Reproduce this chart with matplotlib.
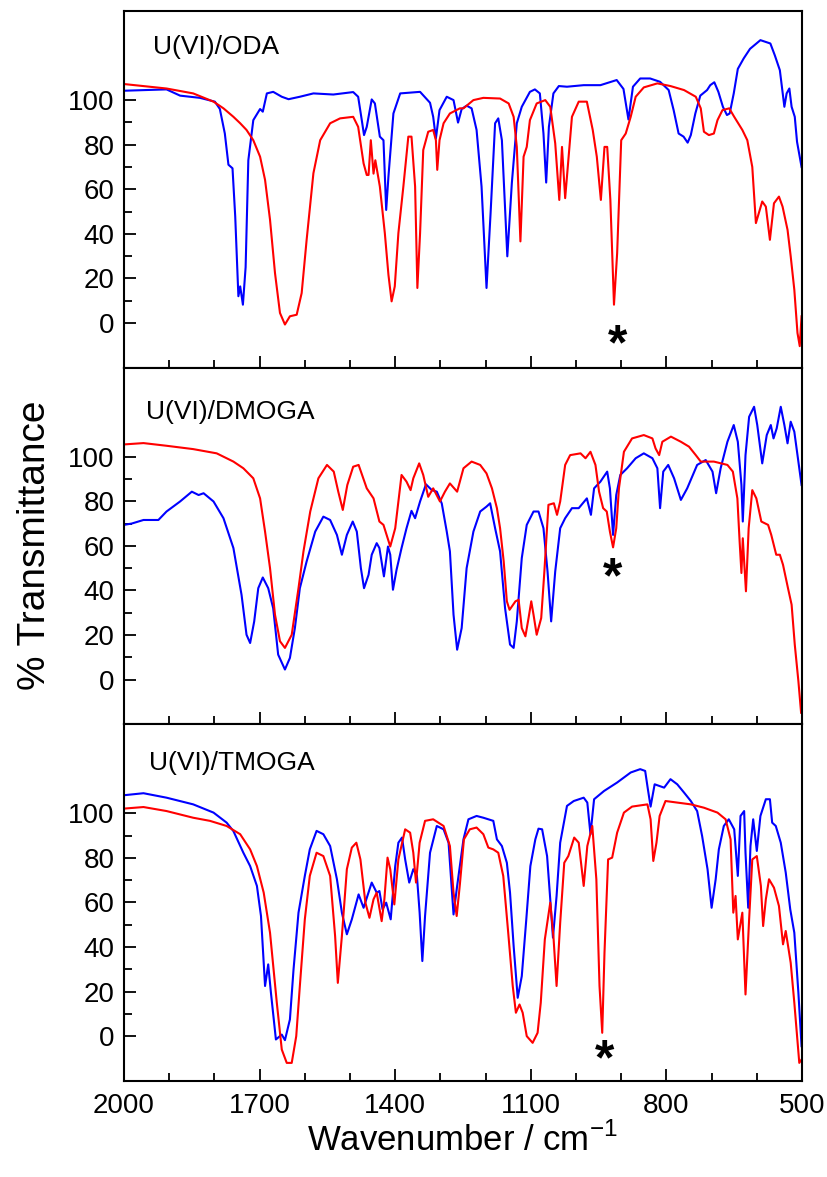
import matplotlib
matplotlib.use("Agg")
import matplotlib.pyplot as plt
from matplotlib.ticker import FixedLocator

plt.rcParams["font.family"] = ["Liberation Sans", "DejaVu Sans"]
plt.rcParams["mathtext.fontset"] = "custom"
plt.rcParams["mathtext.rm"] = "Liberation Sans"

# panel labels and the asterisk positions (wavenumber, %T at the glyph baseline)
panel_names = ["U(VI)/ODA", "U(VI)/DMOGA", "U(VI)/TMOGA"]
star_positions = [(907, -16.2), (920, 39.3), (937, -17.2)]

x_major = [2000, 1700, 1400, 1100, 800, 500]
x_minor = [1900, 1800, 1600, 1500, 1300, 1200, 1000, 900, 700, 600]
y_major = [0, 20, 40, 60, 80, 100]
y_minor = [10, 30, 50, 70, 90]

# spectra: (wavenumber / cm-1, % transmittance)
oda_blue = [
    (2000, 104.2), (1906, 104.8), (1876, 102), (1832, 101), (1799, 99.3), (1788, 96),
    (1777, 85), (1769, 71), (1760, 69.4), (1754, 47.8), (1747, 12), (1743, 16.4),
    (1737, 8.2), (1731, 25), (1725, 73), (1714, 91), (1699, 96), (1693, 94.8),
    (1684, 103), (1670, 103.7), (1651, 101.5), (1636, 100.4), (1611, 101.5), (1581, 103),
    (1537, 102.5), (1493, 103.6), (1482, 101.5), (1474, 91), (1469, 84.3), (1463, 88),
    (1452, 100.3), (1445, 98.5), (1434, 83.6), (1426, 82), (1420, 50.7), (1415, 65.7),
    (1404, 94), (1389, 103), (1345, 103.7), (1323, 98.8), (1316, 92.5), (1310, 82.8),
    (1302, 95.5), (1286, 101.5), (1271, 100), (1261, 89.9), (1253, 96), (1242, 97.5),
    (1231, 96.3), (1220, 86.6), (1209, 61.2), (1198, 15.7), (1189, 49.3), (1179, 89.6),
    (1172, 91.8), (1164, 82), (1152, 29.9), (1142, 62.7), (1131, 89.6), (1120, 97),
    (1102, 103.7), (1091, 104.8), (1080, 103), (1072, 85), (1066, 63), (1060, 88),
    (1050, 103), (1038, 106.3), (1020, 106), (983, 106.7), (946, 106.7), (910, 109),
    (895, 105), (884, 91.3), (874, 106), (858, 109.7), (836, 109.7), (814, 108.2),
    (795, 104.5), (784, 95.5), (773, 85), (762, 83.6), (753, 80.9), (746, 84.3),
    (736, 94), (725, 102), (710, 104.5), (703, 106.7), (694, 108), (685, 103.7),
    (675, 97), (666, 93.3), (660, 94), (651, 103), (642, 114), (629, 118.7),
    (615, 123), (592, 126.9), (570, 125.4), (560, 120), (549, 113.4), (539, 97),
    (534, 103), (528, 105.2), (523, 97), (516, 92.5), (511, 81.3), (501, 70),
]
oda_red = [
    (2000, 107.2), (1906, 105.2), (1847, 103), (1802, 99.3), (1780, 96.3), (1758, 92.5),
    (1743, 89.6), (1729, 86.6), (1714, 82), (1699, 74.6), (1688, 64.2), (1677, 46.3),
    (1666, 22.4), (1655, 4.5), (1644, -0.7), (1633, 3), (1618, 3.7), (1607, 13.4),
    (1596, 37.3), (1581, 67.2), (1566, 82), (1544, 89.6), (1522, 91.8), (1493, 92.5),
    (1482, 88), (1470, 71.6), (1463, 66.4), (1459, 66.4), (1454, 82), (1448, 67),
    (1444, 73), (1434, 61.2), (1423, 40.3), (1415, 21.6), (1408, 9.7), (1401, 16.4),
    (1393, 40.3), (1382, 61.2), (1371, 83.6), (1364, 83.6), (1356, 61.2), (1351, 15.7),
    (1345, 40.3), (1338, 77.6), (1327, 85.8), (1316, 86.6), (1310, 82), (1307, 68.7),
    (1302, 82), (1293, 89.6), (1279, 94), (1257, 96.3), (1249, 96.3), (1227, 100),
    (1205, 101), (1168, 100.7), (1149, 98.5), (1138, 92.5), (1131, 79), (1123, 36.6),
    (1116, 74.6), (1109, 79), (1102, 91), (1087, 98.5), (1068, 100), (1057, 97),
    (1046, 80.6), (1037, 55.2), (1031, 79), (1024, 56), (1017, 73), (1009, 92.5),
    (994, 99.3), (976, 99.3), (963, 86.6), (954, 74.6), (945, 55.2), (937, 79),
    (931, 79), (924, 55.2), (916, 8.2), (909, 31.3), (900, 82), (890, 85),
    (879, 92.5), (868, 101.5), (850, 105.7), (820, 107.5), (791, 106.3), (761, 104.5),
    (735, 101.5), (724, 96.3), (717, 85.8), (706, 84.3), (695, 85), (687, 91),
    (676, 95.5), (661, 96.3), (650, 92.5), (632, 86.6), (621, 82), (610, 70),
    (602, 44.8), (588, 54.5), (580, 52.2), (571, 37.3), (562, 53.7), (551, 56.7),
    (543, 52.2), (532, 41.8), (525, 29.9), (517, 14.9), (510, -4.5), (505, -10.4),
    (501, 3),
]
dmoga_blue = [
    (2000, 69.4), (1983, 70), (1957, 71.6), (1924, 71.6), (1906, 75.4), (1876, 79.9),
    (1850, 84.3), (1835, 82.8), (1824, 83.6), (1802, 79.9), (1780, 72.4), (1758, 59),
    (1740, 38), (1729, 20.1), (1721, 16.4), (1712, 26.1), (1703, 41), (1693, 45.8),
    (1681, 41), (1670, 32), (1659, 11.2), (1644, 4.5), (1633, 9.7), (1622, 23.1),
    (1611, 41), (1596, 53), (1577, 66.4), (1559, 73.1), (1544, 71.6), (1529, 64.9),
    (1518, 56), (1507, 64.9), (1494, 70.9), (1485, 66.4), (1476, 50), (1469, 41),
    (1459, 47), (1452, 56), (1441, 61.2), (1435, 59), (1425, 46.3), (1416, 59.7),
    (1411, 56), (1405, 40.3), (1397, 49.3), (1386, 59), (1375, 67.9), (1364, 75.7),
    (1356, 72.4), (1345, 79.9), (1332, 87.6), (1319, 85), (1308, 84.3), (1297, 79),
    (1286, 66.4), (1279, 57.5), (1271, 29.1), (1263, 13.4), (1253, 23.1), (1242, 50),
    (1227, 66.4), (1212, 75.4), (1198, 77.6), (1190, 79.1), (1179, 67.9), (1168, 57.5),
    (1157, 32.1), (1146, 15.7), (1138, 14.2), (1131, 26.1), (1120, 54.5), (1109, 69.4),
    (1094, 75.4), (1083, 75.4), (1072, 67.9), (1063, 48.5), (1055, 26.1), (1046, 48.5),
    (1035, 67.9), (1024, 72.4), (1009, 76.9), (994, 76.9), (976, 81.3), (967, 73.9),
    (960, 85.8), (946, 88.8), (931, 93.3), (925, 85.8), (918, 64.9), (911, 82.8),
    (902, 91.8), (887, 94.8), (868, 99.3), (850, 101.5), (831, 99.3), (820, 94.8),
    (814, 76.9), (807, 93.3), (796, 96.3), (783, 90.3), (768, 80.6), (754, 85.8),
    (732, 96.3), (713, 98.5), (698, 93.3), (690, 83.6), (680, 94.8), (665, 106.7),
    (651, 114.2), (642, 106.7), (634, 87.3), (631, 70.9), (625, 100.7), (617, 117.9),
    (606, 122.4), (599, 114.2), (588, 97), (578, 109.7), (569, 114.2), (563, 108.2),
    (556, 112.7), (547, 122.4), (539, 114.2), (532, 106), (525, 115.7), (517, 111.2),
    (508, 97.8), (501, 87.3),
]
dmoga_red = [
    (2000, 105.5), (1957, 106.1), (1906, 104.9), (1847, 103.4), (1795, 101.5), (1758, 97.8),
    (1736, 94.8), (1714, 90.3), (1699, 81.3), (1688, 66.4), (1677, 50), (1666, 29.1),
    (1655, 17.2), (1644, 14.2), (1629, 20.1), (1614, 41), (1603, 57.5), (1588, 75.4),
    (1570, 90.3), (1551, 96.3), (1536, 93.3), (1526, 84.3), (1516, 76.1), (1506, 87.3),
    (1493, 95.5), (1481, 96.3), (1463, 85.8), (1448, 81.3), (1435, 70.9), (1426, 69.4),
    (1411, 59.7), (1400, 67.9), (1386, 91.8), (1375, 88.8), (1366, 85), (1360, 90.3),
    (1347, 97), (1338, 91.8), (1327, 82), (1316, 85.8), (1301, 79.9), (1290, 84.3),
    (1279, 88), (1263, 84.3), (1249, 94.8), (1231, 97.8), (1212, 96.3), (1198, 92.5),
    (1186, 85.8), (1175, 76.9), (1168, 67.9), (1160, 53), (1153, 35.1), (1147, 31.3),
    (1134, 35.1), (1127, 35.8), (1120, 23.1), (1112, 19.4), (1105, 27.6), (1099, 35.1),
    (1094, 29.1), (1087, 20.1), (1077, 27.6), (1070, 48.5), (1061, 78.4), (1049, 79.1),
    (1042, 73.9), (1035, 79.9), (1024, 96.3), (1013, 100.7), (990, 101.5), (979, 99.3),
    (968, 102.2), (957, 96.3), (949, 84.3), (940, 76.9), (932, 75.4), (925, 66.4),
    (918, 59.3), (911, 67.9), (905, 85.8), (894, 102.2), (876, 108.2), (850, 109.7),
    (831, 108.2), (824, 103.7), (816, 100.7), (809, 106.7), (790, 109), (768, 106.7),
    (750, 104.5), (735, 100.7), (724, 97.8), (695, 97.8), (665, 96.3), (653, 93.3),
    (643, 81.3), (638, 61.9), (634, 47.8), (631, 63.4), (628, 53), (624, 39.6),
    (618, 67.9), (610, 85), (601, 81.3), (590, 70.9), (575, 69.4), (568, 64.9),
    (557, 56), (549, 56), (542, 51.5), (531, 41), (523, 33.6), (516, 15.7),
    (508, -0.7), (502, -14.9),
]
tmoga_blue = [
    (2000, 108.1), (1957, 109), (1906, 107), (1847, 104), (1802, 100.3), (1773, 95.8),
    (1758, 92), (1736, 82.3), (1721, 76.3), (1706, 67.4), (1697, 53.9), (1688, 22.5),
    (1681, 32.2), (1675, 19.5), (1664, -1.5), (1651, 0.7), (1644, -1.8), (1633, 7.5),
    (1625, 29.9), (1614, 55.4), (1600, 71.9), (1589, 83.8), (1574, 92.1), (1559, 90.6),
    (1544, 85.3), (1529, 70.4), (1518, 55.4), (1507, 45.7), (1496, 52.4), (1481, 63.6),
    (1470, 57.6), (1452, 68.9), (1441, 64.4), (1435, 65.1), (1428, 56.9), (1420, 59.9),
    (1410, 52.4), (1400, 76.3), (1393, 86.8), (1385, 89.1), (1378, 79.3), (1369, 68.9),
    (1360, 74.9), (1352, 71.9), (1346, 55.4), (1340, 33.7), (1334, 53.9), (1323, 82.3),
    (1308, 94.3), (1293, 92.8), (1282, 86.8), (1271, 54.6), (1263, 67.4), (1249, 88.3),
    (1238, 97.3), (1220, 98.8), (1205, 98), (1183, 96.6), (1175, 88.3), (1164, 85.3),
    (1153, 77.8), (1146, 64.4), (1138, 40.4), (1129, 17.2), (1120, 26.9), (1110, 52.4),
    (1101, 76.3), (1090, 88.3), (1083, 93.1), (1075, 92.8), (1064, 80.8), (1057, 61.4),
    (1051, 44.2), (1043, 62.9), (1035, 86.8), (1020, 103.3), (1005, 105.5), (983, 107),
    (975, 104.8), (968, 90.6), (960, 106.3), (938, 110), (909, 113.8), (879, 118.3),
    (858, 119.8), (847, 119), (841, 110.8), (835, 103), (826, 113), (805, 111.5),
    (791, 115.3), (776, 113), (761, 109.3), (746, 105.5), (732, 101), (721, 89.8),
    (709, 74.9), (700, 57.6), (691, 70.4), (684, 83.8), (673, 94.3), (662, 97.3),
    (650, 92.8), (642, 71.9), (636, 98.8), (628, 101), (625, 82.3), (619, 57.6),
    (614, 85.3), (608, 97.3), (600, 83.1), (592, 98.8), (580, 106.3), (571, 106.3),
    (566, 95.8), (558, 94.3), (547, 86.8), (536, 73.4), (526, 56.9), (517, 46.4),
    (508, 19.5), (501, -4.5),
]
tmoga_red = [
    (2000, 102.1), (1957, 102.8), (1906, 101), (1847, 98), (1810, 96.6), (1773, 94.3),
    (1743, 90.6), (1721, 83.8), (1706, 76.3), (1691, 64.4), (1677, 46.4), (1662, 15),
    (1651, -6), (1640, -12), (1629, -12), (1619, 0), (1611, 22.5), (1600, 52.4),
    (1589, 71.9), (1574, 82.3), (1559, 80.8), (1544, 71.9), (1533, 44.9), (1527, 23.9),
    (1518, 44.9), (1507, 74.9), (1496, 84.6), (1486, 86.8), (1477, 79.3), (1466, 59.9),
    (1457, 53.1), (1448, 61.4), (1441, 64.4), (1430, 51.6), (1424, 61.4), (1417, 80.1),
    (1411, 74.9), (1402, 59.1), (1393, 79.3), (1378, 92.8), (1367, 91.3), (1360, 82.3),
    (1354, 68.9), (1346, 86.8), (1334, 96.6), (1316, 97.3), (1293, 94.3), (1279, 85.3),
    (1271, 64.4), (1264, 53.9), (1257, 68), (1248, 88.3), (1235, 92.8), (1220, 93.6),
    (1205, 90.6), (1194, 84.6), (1183, 83.8), (1172, 82.3), (1161, 71.9), (1150, 46.4),
    (1140, 22.5), (1133, 10.5), (1125, 14.2), (1118, 10.5), (1109, 0), (1096, -3),
    (1085, 1.5), (1078, 15), (1069, 43.4), (1057, 59.9), (1050, 44.9), (1043, 22.5),
    (1035, 50.9), (1026, 77.8), (1017, 80.8), (1004, 89.1), (994, 86.8), (983, 67.4),
    (975, 85.3), (964, 94.3), (955, 70.4), (948, 22.5), (942, 1.5), (937, 37.4),
    (929, 79.3), (920, 80.1), (909, 91.3), (894, 100.3), (876, 103), (842, 104),
    (835, 97.3), (829, 78.6), (822, 86.8), (815, 98.8), (802, 105.5), (776, 104.8),
    (746, 104), (717, 102.5), (687, 100.3), (669, 97.3), (658, 88.3), (652, 55.4),
    (647, 62.9), (642, 43.4), (632, 55.4), (625, 18.7), (617, 52.4), (610, 79.3),
    (600, 80.8), (591, 67.4), (586, 49.4), (580, 61.4), (573, 70.4), (562, 66.6),
    (551, 58.4), (542, 41.2), (536, 47.2), (525, 32.9), (517, 15), (506, -12),
    (501, -10.5),
]

panels = [(oda_blue, oda_red), (dmoga_blue, dmoga_red), (tmoga_blue, tmoga_red)]
label_pos = [(0.043, 0.898), (0.033, 0.876), (0.037, 0.892)]

fig, axes = plt.subplots(3, 1, figsize=(8.28, 11.77), dpi=100, sharex=True)
fig.subplots_adjust(left=0.1498, right=0.9686, top=0.9907, bottom=0.0818, hspace=0)

for ax, (blue, red), name, star, lp in zip(axes, panels, panel_names, star_positions, label_pos):
    ax.plot([p[0] for p in blue], [p[1] for p in blue], color="#0000ff", lw=1.5)
    ax.plot([p[0] for p in red], [p[1] for p in red], color="#ff0000", lw=1.5)

    ax.set_xlim(2000, 500)
    ax.set_ylim(-20, 140)
    ax.xaxis.set_major_locator(FixedLocator(x_major))
    ax.xaxis.set_minor_locator(FixedLocator(x_minor))
    ax.yaxis.set_major_locator(FixedLocator(y_major))
    ax.yaxis.set_minor_locator(FixedLocator(y_minor))
    ax.tick_params(which="both", direction="in", top=False, right=False, width=1.3)
    ax.tick_params(which="major", length=8.5, labelsize=20, pad=7)
    ax.tick_params(axis="x", which="major", pad=9)
    ax.tick_params(which="minor", length=5.5)
    for sp in ax.spines.values():
        sp.set_linewidth(1.5)

    ax.text(lp[0], lp[1], name, transform=ax.transAxes, fontsize=19,
            ha="left", va="center")
    ax.text(star[0], star[1], "*", fontsize=36, fontweight="bold",
            ha="center", va="baseline")

fig.text(0.042, 0.537, "% Transmittance", rotation=90, fontsize=28,
         ha="center", va="center")
fig.text(0.558, 0.031, "Wavenumber / cm$^{-1}$", fontsize=25,
         ha="center", va="center")

fig.savefig("out.png", dpi=100)
